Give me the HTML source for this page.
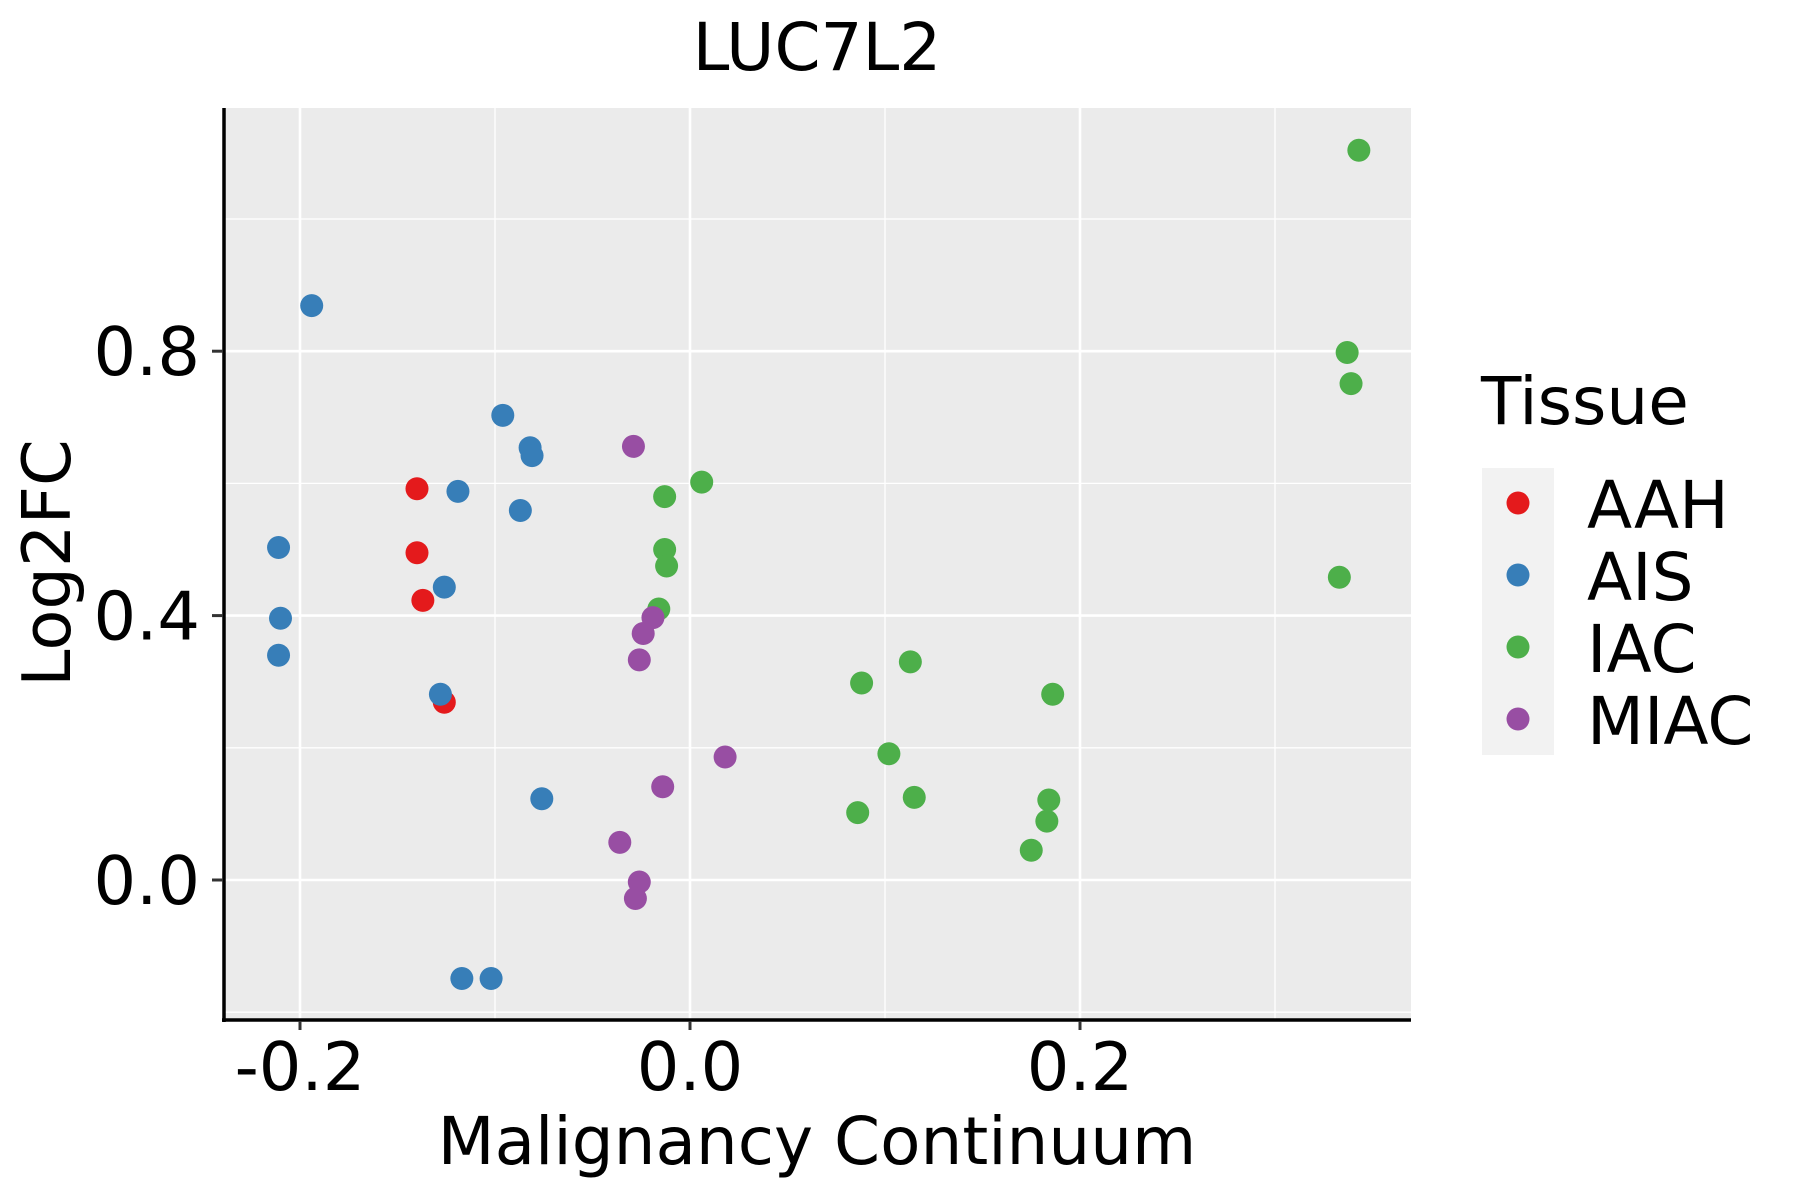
<!DOCTYPE html>
<html><head><meta charset="utf-8"><style>
html,body{margin:0;padding:0;background:#fff;}
svg{display:block;font-family:"DejaVu Sans","Liberation Sans",sans-serif;}
</style></head><body>
<svg id="chart" width="1800" height="1200" viewBox="0 0 1800 1200" xmlns="http://www.w3.org/2000/svg">
<text x="817" y="70" font-size="66" text-anchor="middle">LUC7L2</text>
<rect x="224" y="108" width="1187" height="912" fill="#ebebeb"/>
<g id="grid"></g>
<g id="points"></g>
<line x1="224" y1="108" x2="224" y2="1022" stroke="#000" stroke-width="3.5"/>
<line x1="222" y1="1020" x2="1411" y2="1020" stroke="#000" stroke-width="3.5"/>
<g id="ticks"></g>
<text x="817" y="1164" font-size="66" text-anchor="middle">Malignancy Continuum</text>
<text transform="translate(70,563) rotate(-90)" font-size="67" text-anchor="middle">Log2FC</text>
<g id="legend">
<text x="1481" y="424" font-size="66">Tissue</text>
<rect x="1482" y="468" width="72" height="287" fill="#f2f2f2"/>
</g>
</svg>
<script>
const xTicks=[-0.2,0.0,0.2];
const xTickLabels=["-0.2","0.0","0.2"];
const xMinor=[-0.1,0.1,0.3];
const yTicks=[0.0,0.4,0.8];
const yTickLabels=["0.0","0.4","0.8"];
const yMinor=[-0.2,0.2,0.6,1.0];
const groups=["AAH","AIS","IAC","MIAC"];
const colors=["#e41a1c","#377eb8","#4daf4a","#984ea3"];
const aahX=[-0.140,-0.140,-0.137,-0.126];
const aahY=[0.592,0.495,0.423,0.269];
const aisX=[-0.194,-0.211,-0.210,-0.211,-0.128,-0.126,-0.119,-0.096,-0.082,-0.081,-0.087,-0.076,-0.117,-0.102];
const aisY=[0.869,0.503,0.396,0.340,0.281,0.443,0.588,0.703,0.654,0.642,0.559,0.123,-0.149,-0.149];
const iacX=[0.343,0.337,0.339,0.333,0.006,-0.013,-0.013,-0.012,-0.016,0.088,0.113,0.186,0.102,0.115,0.086,0.184,0.183,0.175];
const iacY=[1.104,0.798,0.751,0.458,0.602,0.580,0.500,0.475,0.410,0.298,0.330,0.281,0.191,0.125,0.102,0.121,0.089,0.045];
const miacX=[-0.029,-0.019,-0.024,-0.026,0.018,-0.014,-0.036,-0.026,-0.028];
const miacY=[0.656,0.397,0.373,0.333,0.186,0.141,0.057,-0.003,-0.028];
const seriesX=[aahX,aisX,iacX,miacX];
const seriesY=[aahY,aisY,iacY,miacY];

const NS="http://www.w3.org/2000/svg";
function X(v){return 690+v*1950;}
function Y(v){return 880-v*661;}
function mk(tag,attrs,parent){const e=document.createElementNS(NS,tag);for(const k in attrs)e.setAttribute(k,attrs[k]);parent.appendChild(e);return e;}
const grid=document.getElementById('grid');
xMinor.forEach(v=>{const l=mk('line',{x1:X(v),x2:X(v),y1:108,y2:1020,stroke:'#fff','stroke-width':1.3},grid);

});
yMinor.forEach(v=>{const l=mk('line',{x1:224,x2:1411,y1:Y(v),y2:Y(v),stroke:'#fff','stroke-width':1.3},grid);

});
xTicks.forEach(v=>{const l=mk('line',{x1:X(v),x2:X(v),y1:108,y2:1020,stroke:'#fff','stroke-width':2.6},grid);

});
yTicks.forEach(v=>{const l=mk('line',{x1:224,x2:1411,y1:Y(v),y2:Y(v),stroke:'#fff','stroke-width':2.6},grid);

});
const ticks=document.getElementById('ticks');
xTicks.forEach((v,i)=>{const l=mk('line',{x1:X(v),x2:X(v),y1:1021,y2:1030,stroke:'#333','stroke-width':3},ticks);


const t=mk('text',{x:X(v),y:1090,'font-size':67,'text-anchor':'middle'},ticks);t.textContent=xTickLabels[i];

});
yTicks.forEach((v,i)=>{const l=mk('line',{x1:212,x2:223,y1:Y(v),y2:Y(v),stroke:'#333','stroke-width':3},ticks);


const t=mk('text',{x:200,y:Y(v)+24,'font-size':67,'text-anchor':'end'},ticks);t.textContent=yTickLabels[i];

});
const pts=document.getElementById('points');
groups.forEach((g,gi)=>{seriesX[gi].forEach((xv,j)=>{const c=mk('circle',{cx:X(xv),cy:Y(seriesY[gi][j]),r:11.5,fill:colors[gi]},pts);

});});
const leg=document.getElementById('legend');
groups.forEach((g,i)=>{const cy=503+i*72;
const c=mk('circle',{cx:1518,cy:cy,r:11.5,fill:colors[i]},leg);


const t=mk('text',{x:1587,y:cy+25,'font-size':66},leg);t.textContent=g;

});
</script>
</body></html>
